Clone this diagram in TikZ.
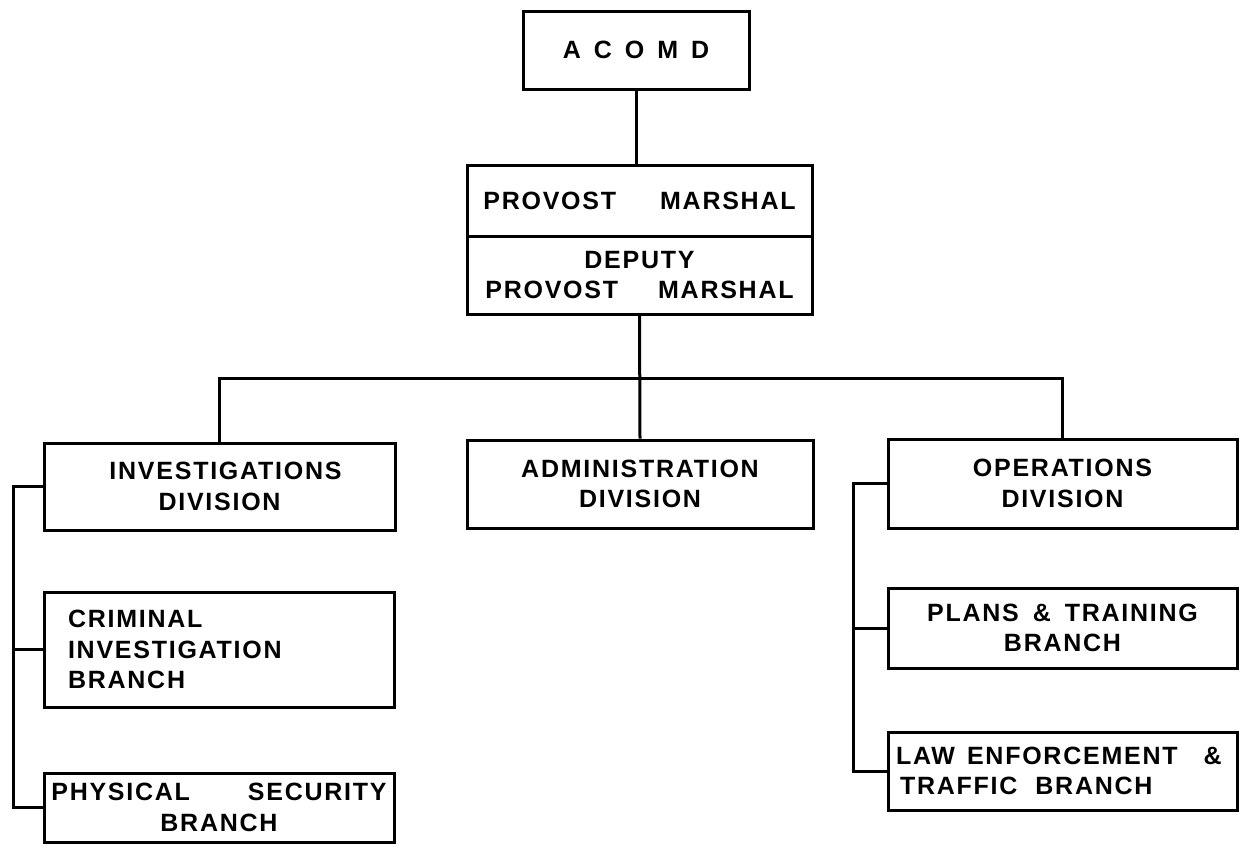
\documentclass[tikz,border=0pt]{standalone}
\usepackage{fontspec}
\newfontfamily\lbl{Liberation Sans}[LetterSpace=7]
\begin{document}
\begin{tikzpicture}[x=1pt,y=-1pt,
  line width=3pt,
  box/.style={draw, line width=3pt, inner sep=0pt, align=center,
    font=\lbl\bfseries\fontsize{25}{30.5}\selectfont},
  conn/.style={draw, line width=3pt}]
\useasboundingbox (0,0) rectangle (1242,844);
% boxes
\node[box, minimum width=226pt, minimum height=78pt] (acomd) at (636,50)
  {A\hspace{13pt}C\hspace{13pt}O\hspace{13pt}M\hspace{13pt}D};
\node[box, minimum width=345pt, minimum height=71pt] (pm) at (639.5,200.5)
  {PROVOST\hspace{44pt}MARSHAL};
\node[box, minimum width=345pt, minimum height=78pt] (dpm) at (639.5,275)
  {DEPUTY\\PROVOST\hspace{40pt}MARSHAL};
\node[box, minimum width=351pt, minimum height=87pt] (inv) at (219.5,486.5)
  {\hspace*{12pt}INVESTIGATIONS\\DIVISION};
\node[box, minimum width=346pt, minimum height=88pt] (adm) at (640,484)
  {ADMINISTRATION\\DIVISION};
\node[box, minimum width=349pt, minimum height=89pt] (ops) at (1062.5,483.5)
  {OPERATIONS\\DIVISION};
\node[box, minimum width=350pt, minimum height=115pt, align=left,
  text width=302pt, inner xsep=24pt] (crim) at (219,649.5)
  {CRIMINAL\\INVESTIGATION\\BRANCH};
\node[box, minimum width=350pt, minimum height=69pt] (phys) at (219,807.5)
  {PHYSICAL\hspace{58pt}SECURITY\\BRANCH};
\node[box, minimum width=349pt, minimum height=80pt] (plans) at (1062.5,628)
  {PLANS\hspace{14pt}\&\hspace{14pt}TRAINING\\BRANCH};
\node[box, minimum width=349pt, minimum height=78pt, align=left,
  text width=333pt, inner xsep=8pt] (law) at (1062.5,771)
  {LAW\hspace{12pt}ENFORCEMENT\hspace{26pt}\&\\\hspace*{4pt}TRAFFIC\hspace{18pt}BRANCH};
% bus coordinates
\coordinate (hb) at (0,378);
\coordinate (lbus) at (13,0);
\coordinate (rbus) at (853,0);
% connectors
\draw[conn] (acomd.south) -- (acomd.south |- pm.north);
\draw[conn] (dpm.south) -- (adm.north);
\draw[conn] (inv.north) -- (inv.north |- hb) -- (ops.north |- hb) -- (ops.north);
\draw[conn] (inv.west) -- (lbus |- inv.west) -- (lbus |- phys.west) -- (phys.west);
\draw[conn] (lbus |- crim.west) -- (crim.west);
\draw[conn] (ops.west) -- (rbus |- ops.west) -- (rbus |- law.west) -- (law.west);
\draw[conn] (rbus |- plans.west) -- (plans.west);
\end{tikzpicture}
\end{document}
